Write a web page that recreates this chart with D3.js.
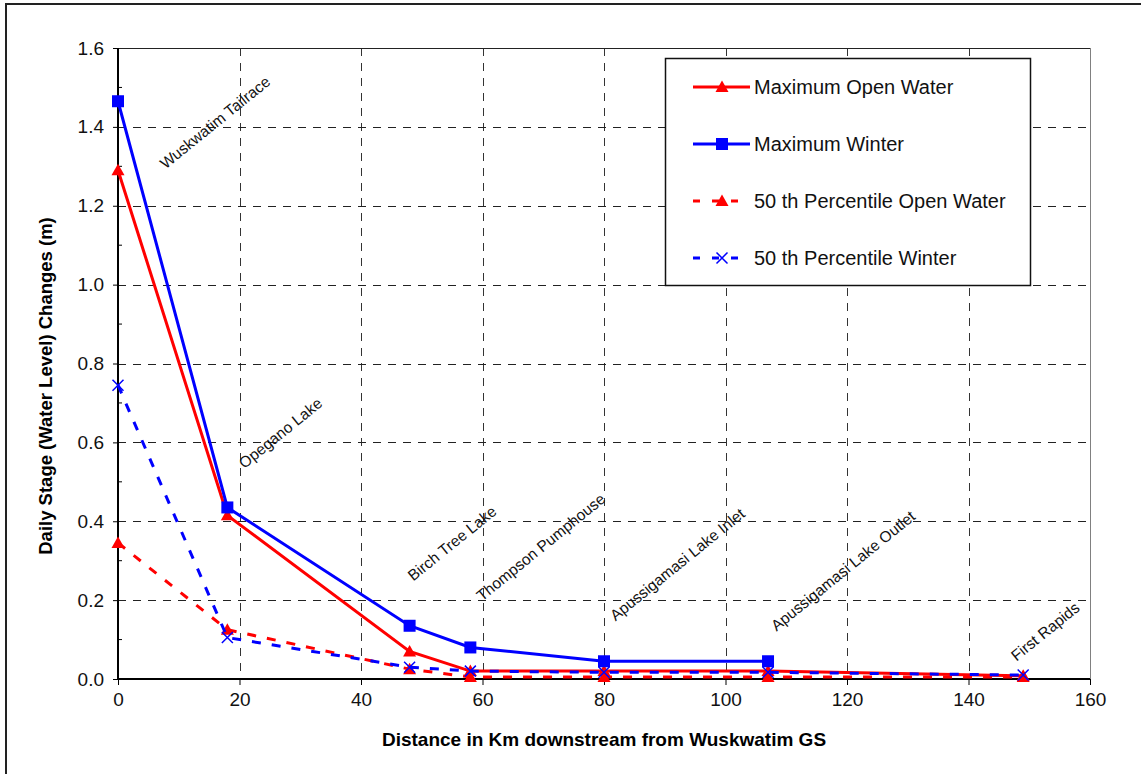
<!DOCTYPE html>
<html>
<head>
<meta charset="utf-8">
<script src="https://cdn.jsdelivr.net/npm/d3@7"></script>
<style>
  body { margin: 0; background: #fff; }
  svg { display: block; font-family: Arial, "Liberation Sans", sans-serif; }
</style>
</head>
<body>
<div id="graph"></div>
<script>
// Distance downstream (km) for each site
var distances = [0, 18, 48, 58, 80, 107, 149];

var max_open_water  = [1.29, 0.415, 0.07, 0.02, 0.02, 0.02, 0.008];
var max_winter      = [1.465, 0.435, 0.135, 0.08, 0.045, 0.045];   // no value at 149
var p50_open_water  = [0.345, 0.125, 0.025, 0.005, 0.005, 0.005, 0.005];
var p50_winter      = [0.745, 0.105, 0.03, 0.02, 0.017, 0.017, 0.01];

var series_names = ["Maximum Open Water", "Maximum Winter", "50 th Percentile Open Water", "50 th Percentile Winter"];

var site_names  = ["Wuskwatim Tailrace", "Opegano Lake", "Birch Tree Lake", "Thompson Pumphouse",
                   "Apussigamasi  Lake Inlet", "Apussigamasi Lake Outlet", "First Rapids"];
var site_label_x = [7.8, 20.8, 48.6, 59.9, 81.9, 108.4, 147.9];
var site_label_y = [1.292, 0.532, 0.247, 0.196, 0.146, 0.12, 0.044];

var x_ticks = [0, 20, 40, 60, 80, 100, 120, 140, 160];
var y_ticks = [0, 0.2, 0.4, 0.6, 0.8, 1.0, 1.2, 1.4, 1.6];
var y_minor = [0.1, 0.3, 0.5, 0.7, 0.9, 1.1, 1.3, 1.5];

var WIDTH = 1141, HEIGHT = 774;
var LEFT = 118, RIGHT = 1090, TOP = 48, BOTTOM = 679;

var svg = d3.select("#graph").append("svg")
            .attr("width", WIDTH)
            .attr("height", HEIGHT);

// outer chart border
svg.append("rect")
   .attr("x", 6).attr("y", 4)
   .attr("width", WIDTH + 20).attr("height", HEIGHT + 20)
   .attr("fill", "white")
   .attr("stroke", "#222")
   .attr("stroke-width", 2);

var xscale = d3.scaleLinear().domain([0, 160]).range([LEFT, RIGHT]);
var yscale = d3.scaleLinear().domain([0, 1.6]).range([BOTTOM, TOP]);

// grid lines
svg.append("g").selectAll("line")
   .data(x_ticks.slice(1))
   .join("line")
     .attr("x1", d => Math.round(xscale(d)) + 0.5)
     .attr("x2", d => Math.round(xscale(d)) + 0.5)
     .attr("y1", TOP).attr("y2", BOTTOM)
     .attr("stroke", d => d === 160 ? "#808080" : "#333")
     .attr("stroke-dasharray", d => d === 160 ? null : "8,7");

svg.append("g").selectAll("line")
   .data(y_ticks.slice(1))
   .join("line")
     .attr("x1", LEFT).attr("x2", RIGHT)
     .attr("y1", d => Math.round(yscale(d)) + 0.5)
     .attr("y2", d => Math.round(yscale(d)) + 0.5)
     .attr("stroke", "#222")
     .attr("stroke-dasharray", d => d === 1.6 ? null : "8,7");

// axes
var x_axis = d3.axisBottom(xscale).tickValues(x_ticks).tickSize(6).tickPadding(8).tickFormat(d3.format("d"));
var y_axis = d3.axisLeft(yscale).tickValues(y_ticks).tickSize(5).tickPadding(9).tickFormat(d3.format(".1f"));

var gx = svg.append("g").attr("transform", "translate(0," + BOTTOM + ")").call(x_axis);
var gy = svg.append("g").attr("transform", "translate(" + LEFT + ",0)").call(y_axis);

// minor ticks on y axis (inside)
gy.selectAll(".minor").data(y_minor).join("line")
  .attr("class", "minor")
  .attr("x1", 0).attr("x2", 4)
  .attr("y1", d => yscale(d)).attr("y2", d => yscale(d))
  .attr("stroke", "#000");

[gx, gy].forEach(function(g) {
  g.select(".domain").attr("stroke", "#000").attr("stroke-width", 2);
  g.selectAll(".tick line").attr("stroke", "#000");
  g.selectAll("text").attr("font-size", 19).attr("fill", "#111")
   .attr("font-family", "Arial, 'Liberation Sans', sans-serif");
});
gx.select(".domain").attr("d", "M" + LEFT + ",0H" + RIGHT);
gy.select(".domain").attr("d", "M0," + BOTTOM + "V" + TOP);

// axis titles
svg.append("text")
   .attr("x", (LEFT + RIGHT) / 2).attr("y", 746)
   .attr("text-anchor", "middle")
   .attr("font-size", 19).attr("font-weight", "bold")
   .text("Distance in Km downstream from Wuskwatim GS");

svg.append("text")
   .attr("transform", "translate(52,386) rotate(-90)")
   .attr("text-anchor", "middle")
   .attr("font-size", 18.5).attr("font-weight", "bold")
   .text("Daily Stage (Water Level) Changes (m)");

// site labels
svg.append("g").selectAll("text")
   .data(site_names)
   .join("text")
     .attr("transform", (d, i) => "translate(" + xscale(site_label_x[i]) + "," + yscale(site_label_y[i]) + ") rotate(-39)")
     .attr("font-size", 15.5)
     .attr("fill", "#111")
     .text(d => d);

// series
var series = [
  {name: series_names[0], values: max_open_water, color: "#ff0000", dash: null,  marker: "triangle"},
  {name: series_names[1], values: max_winter,     color: "#0000ff", dash: null,  marker: "square"},
  {name: series_names[2], values: p50_open_water, color: "#ff0000", dash: "9,11", marker: "triangle"},
  {name: series_names[3], values: p50_winter,     color: "#0000ff", dash: "9,11", marker: "cross"}
];

var line = d3.line()
             .x(d => xscale(d[0]))
             .y(d => yscale(d[1]));

function draw_marker(g, type, color) {
  if (type === "triangle") {
    g.append("path").attr("d", "M0,-6.5L6.5,5L-6.5,5Z").attr("fill", color);
  } else if (type === "square") {
    g.append("rect").attr("x", -6).attr("y", -6).attr("width", 12).attr("height", 12).attr("fill", color);
  } else {
    g.append("path").attr("d", "M-5.5,-5.5L5.5,5.5M-5.5,5.5L5.5,-5.5")
     .attr("stroke", color).attr("stroke-width", 1.5).attr("fill", "none");
  }
}

series.forEach(function(s) {
  let pts = s.values.map((v, i) => [distances[i], v]);
  svg.append("path")
     .datum(pts)
     .attr("d", line)
     .attr("fill", "none")
     .attr("stroke", s.color)
     .attr("stroke-width", 3)
     .attr("stroke-dasharray", s.dash);
  pts.forEach(function(p) {
    let g = svg.append("g").attr("transform", "translate(" + xscale(p[0]) + "," + yscale(p[1]) + ")");
    draw_marker(g, s.marker, s.color);
  });
});

// legend
var legend = svg.append("g");
legend.append("rect")
      .attr("x", 665.5).attr("y", 58.5)
      .attr("width", 365).attr("height", 227)
      .attr("fill", "white")
      .attr("stroke", "#111")
      .attr("stroke-width", 1.5);

series.forEach(function(s, i) {
  let y = 87 + i * 57;
  legend.append("line")
        .attr("x1", 693).attr("x2", 750)
        .attr("y1", y).attr("y2", y)
        .attr("stroke", s.color)
        .attr("stroke-width", 3)
        .attr("stroke-dasharray", s.dash ? "7,12" : null);
  let g = legend.append("g").attr("transform", "translate(722," + y + ")");
  draw_marker(g, s.marker, s.color);
  legend.append("text")
        .attr("x", 754).attr("y", y + 7)
        .attr("font-size", 20)
        .attr("fill", "#111")
        .text(s.name);
});
</script>
</body>
</html>
